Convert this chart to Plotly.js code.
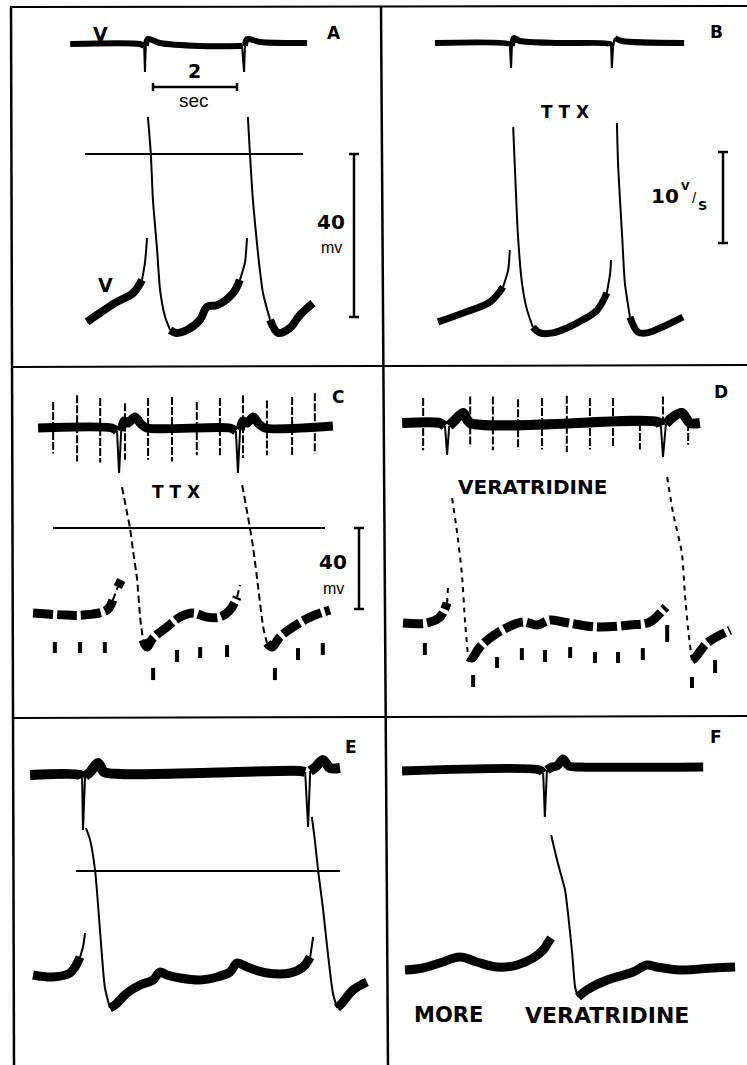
<!DOCTYPE html>
<html>
<head>
<meta charset="utf-8">
<script src="https://cdn.plot.ly/plotly-3.0.1.min.js"></script>
<style>
html,body{margin:0;padding:0;background:#fff;}
#chart{width:747px;height:1065px;}
</style>
</head>
<body>
<div id="chart"></div>
<script>
// ================= DATA (time in s, membrane potential in mV, dV/dt in V/s) =================
const panelKeys = ['A','B','C','D','E','F'];

// ---- Panel A (control) ----
const A_vm_t = [0, 0.31, 0.71, 1.10, 1.31, 1.38, 1.43, null, 1.45, 1.52, 1.57, 1.67, 1.74, 1.86, 1.98, 2.14, 2.38, 2.69, 2.86, 3.10, 3.48, 3.64, 3.76, 3.81, null, 3.83, 3.88, 3.95, 4.07, 4.19, 4.36, 4.55, 4.83, 5.07, 5.38];
const A_vm_v = [-41.2, -39.0, -36.3, -34.1, -30.9, -26.7, -20.6, null, 9.1, 0, -11.3, -23.6, -33.4, -40.0, -43.2, -43.9, -43.2, -40.7, -37.5, -37.1, -34.1, -30.9, -26.7, -20.6, null, 9.1, 0, -11.3, -24.3, -34.1, -40.7, -43.9, -42.7, -39.5, -36.6];
const A_dv_t = [-0.40, 1.26, 1.36, 1.38, 1.40, 1.45, 1.74, 2.69, 3.69, 3.74, 3.76, 3.81, 4.12, 5.24];
const A_dv_d = [-0.11, -0.11, -0.33, -3.19, -0.33, 0.44, 0, -0.33, -0.33, -3.19, -0.33, 0.44, 0.11, 0];

// ---- Panel B (TTX) ----
const B_vm_t = [0, 0.60, 1.24, 1.55, 1.67, 1.71, null, 1.79, 1.83, 1.90, 2.00, 2.12, 2.26, 2.43, 2.74, 3.07, 3.45, 3.79, 4.02, 4.10, 4.12, null, 4.26, 4.29, 4.38, 4.45, 4.57, 4.76, 4.98, 5.29, 5.60, 5.83];
const B_vm_v = [-41.2, -39.0, -36.3, -32.6, -28.5, -23.6, null, 6.6, -3.2, -19.4, -31.7, -38.3, -42.5, -43.9, -43.9, -42.7, -40.7, -38.3, -34.1, -29.2, -26.0, null, 7.6, -3.2, -19.4, -31.7, -40.0, -43.7, -43.9, -42.7, -41.2, -40.0];
const B_dv_t = [-0.07, 1.69, 1.71, 1.74, 1.76, 1.81, 1.95, 2.90, 4.10, 4.12, 4.14, 4.17, 4.21, 4.38, 5.86];
const B_dv_d = [0, -0.11, -0.33, -2.75, -0.33, 0.55, 0.22, 0, -0.11, -0.33, -2.75, -0.33, 0.55, 0.22, 0];

// ---- Panel C (TTX, with time marks) ----
const C_vm_t = [0, 0.81, 1.19, 1.76, 1.90, 2.02, 2.10, null, 2.12, 2.24, 2.31, 2.38, 2.48, 2.55, 2.62, 2.71, 2.86, 3.19, 3.50, 3.81, 4.14, 4.45, 4.69, 4.86, 4.93, null, 4.98, 5.12, 5.24, 5.36, 5.48, 5.57, 5.69, 5.88, 6.19, 6.60, 7.07];
const C_vm_v = [-42.0, -43.0, -43.0, -40.5, -35.6, -29.1, -25.7, null, 20.2, 7.4, 0, -10.9, -25.7, -44.0, -55.3, -58.8, -54.3, -48.9, -44.0, -42.0, -44.0, -44.0, -40.5, -34.1, -28.1, null, 21.2, 5.4, -9.4, -29.1, -48.9, -56.8, -58.8, -53.8, -48.9, -44.0, -40.5];
const C_dv_t = [0.12, 1.88, 2.00, 2.05, 2.10, 2.17, 2.26, 2.43, 2.57, 2.71, 4.69, 4.83, 4.88, 4.93, 5.00, 5.10, 5.24, 5.38, 5.52, 7.14];
const C_dv_d = [-0.11, -0.11, -0.44, -5.05, -0.44, 0.66, 0.44, 1.10, 0.33, -0.11, -0.11, -0.44, -5.05, -0.33, 0.66, 0.44, 1.10, 0.33, -0.11, 0.11];
const C_mark_t  = [0.48, 1.05, 1.60, 2.19, 2.74, 3.31, 3.90, 4.45, 5.00, 5.57, 6.17, 6.71];
const C_mark_up = [2.75, 3.5, 3.2, 2.6, 3.2, 3.3, 2.75, 3.2, 3.5, 2.9, 3.3, 3.7];
const C_mark_dn = [-2.9, -3.8, -3.9, -3.6, -3.6, -3.8, -3.1, -3.1, -3.4, -3.1, -3.1, -2.9];
const C_tick_t   = [0.52, 1.12, 1.71, 2.86, 3.43, 3.98, 4.62, 5.76, 6.31, 6.90];
const C_tick_top = [-56.3, -56.3, -56.3, -69.1, -60.2, -58.8, -57.8, -69.1, -59.3, -56.8];
const C_tick_bot = [-61.7, -61.7, -61.7, -75.1, -66.2, -64.2, -63.7, -75.1, -65.2, -62.7];

// ---- Panel D (veratridine, with time marks) ----
const D_vm_t = [0, 0.57, 0.88, 1.05, 1.07, null, 1.17, 1.29, 1.40, 1.48, 1.55, 1.64, 1.83, 2.24, 2.86, 3.19, 3.50, 3.81, 4.62, 5.40, 5.88, 6.19, 6.26, null, 6.29, 6.43, 6.64, 6.71, 6.79, 6.88, 6.95, 7.24, 7.79];
const D_vm_v = [-46.9, -46.9, -44.0, -37.0, -29.6, null, 14.8, -2.5, -22.2, -46.9, -63.7, -64.2, -58.8, -51.9, -46.4, -47.9, -45.4, -46.4, -48.9, -47.9, -46.4, -40.5, -39.0, null, 25.2, 7.4, -12.3, -32.1, -50.4, -65.2, -64.2, -56.8, -50.4];
const D_dv_t = [-0.02, 0.88, 1.00, 1.05, 1.10, 1.24, 1.43, 1.60, 6.07, 6.14, 6.19, 6.26, 6.40, 6.64, 6.83, 7.07];
const D_dv_d = [0, 0, -0.33, -3.52, -0.33, 0.33, 1.10, 0, 0.11, -0.33, -3.74, -0.11, 0.55, 1.10, 0, 0];
const D_mark_t  = [0.48, 1.60, 2.14, 2.74, 3.31, 3.90, 4.45, 5.00, 5.64, 6.19, 6.79];
const D_mark_up = [2.75, 2.9, 2.9, 2.6, 2.75, 3.0, 2.75, 2.75, 0, 2.9, 0];
const D_mark_dn = [-3.0, -2.6, -3.0, -2.9, -2.9, -3.2, -2.9, -2.6, -2.9, 0, -2.4];
const D_tick_t   = [0.52, 1.67, 2.24, 2.83, 3.38, 3.98, 4.57, 5.12, 5.71, 6.29, 6.88, 7.43];
const D_tick_top = [-56.8, -72.6, -63.7, -59.3, -60.2, -58.8, -61.2, -61.2, -59.3, -47.9, -73.6, -65.2];
const D_tick_bot = [-62.7, -78.5, -69.1, -65.2, -66.2, -64.2, -66.7, -66.7, -65.2, -56.3, -79.0, -71.6];

// ---- Panel E ----
const E_vm_t = [0, 0.48, 0.88, 1.00, 1.12, 1.19, 1.24, null, 1.26, 1.36, 1.48, 1.60, 1.71, 1.83, 1.95, 2.24, 2.55, 2.86, 3.02, 3.19, 3.50, 3.98, 4.38, 4.69, 4.86, 5.10, 5.57, 6.12, 6.43, 6.60, 6.67, null, 6.64, 6.71, 6.79, 6.90, 7.02, 7.14, 7.24, 7.36, 7.62, 7.95];
const E_vm_v = [-41.6, -42.4, -40.8, -38.4, -34.4, -30.4, -24.8, null, 17.2, 12.4, 0, -24.8, -46.4, -54.8, -53.6, -48.8, -45.6, -43.6, -40.4, -41.6, -42.8, -43.6, -42.4, -40.4, -36.8, -38.4, -40.8, -40.8, -38.4, -34.4, -26.4, null, 21.6, 12.4, 0, -14.4, -32.8, -48.8, -54.8, -52.8, -47.6, -44.4];
const E_dv_t = [-0.07, 1.12, 1.17, 1.19, 1.24, 1.36, 1.55, 1.69, 2.07, 3.98, 6.36, 6.48, 6.55, 6.60, 6.71, 6.90, 7.07, 7.31];
const E_dv_d = [0, 0, -0.33, -6.04, -0.11, 0.33, 1.32, 0.33, 0.11, 0.22, 0.44, 0.33, -5.71, 0.44, 0.77, 1.65, 0.77, 0.77];

// ---- Panel F (more veratridine) ----
const F_vm_t = [0, 0.43, 0.83, 1.31, 1.71, 2.19, 2.67, 3.05, 3.29, 3.40, 3.48, null, 3.48, 3.62, 3.81, 3.88, 3.98, 4.05, 4.12, 4.33, 4.81, 5.43, 5.76, 6.00, 6.55, 7.33, 7.86];
const F_vm_v = [-39.6, -38.8, -36.8, -34.4, -36.4, -38.4, -37.6, -34.8, -31.6, -28.8, -26.8, null, 14.4, 4.4, -7.6, -16.8, -32.8, -46.4, -50.4, -47.6, -43.6, -40.4, -37.6, -38.4, -39.6, -38.8, -38.4];
const F_dv_t = [-0.07, 3.21, 3.29, 3.33, 3.38, 3.50, 3.62, 3.76, 3.90, 4.17, 7.10];
const F_dv_d = [0, 0.11, -0.22, -5.05, 0.11, 0.44, 0.55, 1.32, 0.55, 0.44, 0.44];

// ---- calibration bars / reference ----
const refPotential_mV = 0;
const scaleA_time_s = 2;
const scaleA_mV = 40;
const scaleB_Vs = 10;
const scaleC_mV = 40;

// ================= LAYOUT GEOMETRY (pixels) =================
const W = 747, H = 1065;
const PX_PER_S = 42, PX_PER_VS = 9.1;
const geom = {
  A:{l:12,  r:382, t:7,   b:367,  t0:87,  v0:154, mv:4.075, d0:43},
  B:{l:382, r:747, t:7,   b:367,  t0:438, v0:154, mv:4.075, d0:43},
  C:{l:12,  r:382, t:367, b:718,  t0:33,  v0:528, mv:2.025, d0:427},
  D:{l:382, r:747, t:367, b:718,  t0:403, v0:528, mv:2.025, d0:423},
  E:{l:12,  r:382, t:718, b:1065, t0:33,  v0:871, mv:2.5,   d0:775},
  F:{l:382, r:747, t:718, b:1065, t0:405, v0:871, mv:2.5,   d0:771}
};
const style = {
  A:{vmW:8, dvW:6,  thickDash:'solid',     thinDash:'solid'},
  B:{vmW:7, dvW:6,  thickDash:'solid',     thinDash:'solid'},
  C:{vmW:9, dvW:9,  thickDash:'20px,4px',  thinDash:'7px,4px'},
  D:{vmW:9, dvW:10, thickDash:'20px,4px',  thinDash:'5px,5px'},
  E:{vmW:9, dvW:10, thickDash:'solid',     thinDash:'solid'},
  F:{vmW:9, dvW:9,  thickDash:'solid',     thinDash:'solid'}
};
const series = {
  A:{vt:A_vm_t, vv:A_vm_v, dt:A_dv_t, dd:A_dv_d},
  B:{vt:B_vm_t, vv:B_vm_v, dt:B_dv_t, dd:B_dv_d},
  C:{vt:C_vm_t, vv:C_vm_v, dt:C_dv_t, dd:C_dv_d, mt:C_mark_t, mu:C_mark_up, md:C_mark_dn, kt:C_tick_t, ka:C_tick_top, kb:C_tick_bot},
  D:{vt:D_vm_t, vv:D_vm_v, dt:D_dv_t, dd:D_dv_d, mt:D_mark_t, mu:D_mark_up, md:D_mark_dn, kt:D_tick_t, ka:D_tick_top, kb:D_tick_bot},
  E:{vt:E_vm_t, vv:E_vm_v, dt:E_dv_t, dd:E_dv_d},
  F:{vt:F_vm_t, vv:F_vm_v, dt:F_dv_t, dd:F_dv_d}
};

const INK = '#000';
function axKey(letter, n){ return letter + 'axis' + (n === 1 ? '' : n); }
function axRef(letter, n){ return letter + (n === 1 ? '' : n); }
const pxT = (g, px) => (px - g.t0) / PX_PER_S;
const pxV = (g, py) => (g.v0 - py) / g.mv;
const pxD = (g, py) => (g.d0 - py) / PX_PER_VS;

// split a trace into slow (thick beam) and fast (thin beam) parts using its on-screen slope
function splitBySlope(t, v, sx, sy, ratio){
  const thick = {x:[], y:[]}, thin = {x:[], y:[]};
  for (let k = 0; k < t.length - 1; k++){
    const a = t[k], b = t[k+1], va = v[k], vb = v[k+1];
    if (a === null || b === null || va === null || vb === null) continue;
    const steep = Math.abs(vb - va) * sy > ratio * Math.abs(b - a) * sx;
    const tg = steep ? thin : thick;
    const n = tg.x.length - 1;
    if (n >= 0 && tg.x[n] === a && tg.y[n] === va){ tg.x.push(b); tg.y.push(vb); }
    else { if (n >= 0){ tg.x.push(null); tg.y.push(null); } tg.x.push(a, b); tg.y.push(va, vb); }
  }
  return {thick, thin};
}
function segs(ts, a, b){
  const x = [], y = [];
  ts.forEach((t, k) => { x.push(t, t, null); y.push(a[k], b[k], null); });
  return {x, y};
}

const traces = [];
const layout = {
  width: W, height: H,
  margin: {l:0, r:0, t:0, b:0, pad:0},
  paper_bgcolor: '#fff', plot_bgcolor: 'rgba(0,0,0,0)',
  showlegend: false, hovermode: false,
  annotations: [], shapes: []
};
const hidden = {visible:false, showgrid:false, zeroline:false, fixedrange:true};

panelKeys.forEach((p, i) => {
  const n = i + 1, g = geom[p], s = series[p], st = style[p];
  const xr = axRef('x', n), yv = axRef('y', n), yd = axRef('y', n + 6);
  layout[axKey('x', n)] = Object.assign({}, hidden, {domain:[g.l / W, g.r / W], range:[pxT(g, g.l), pxT(g, g.r)], anchor: yv});
  layout[axKey('y', n)] = Object.assign({}, hidden, {domain:[1 - g.b / H, 1 - g.t / H], range:[pxV(g, g.b), pxV(g, g.t)], anchor: xr});
  layout[axKey('y', n + 6)] = Object.assign({}, hidden, {overlaying: yv, range:[pxD(g, g.b), pxD(g, g.t)], anchor: xr});

  // membrane potential trace
  const vm = splitBySlope(s.vt, s.vv, PX_PER_S, g.mv, 2.5);
  traces.push({type:'scatter', mode:'lines', xaxis:xr, yaxis:yv, x:vm.thin.x, y:vm.thin.y,
    line:{color:INK, width:2, dash:st.thinDash, shape:'spline', smoothing:0.6}});
  traces.push({type:'scatter', mode:'lines', xaxis:xr, yaxis:yv, x:vm.thick.x, y:vm.thick.y,
    line:{color:INK, width:st.vmW, dash:st.thickDash, shape:'spline', smoothing:1}});
  // dV/dt trace
  const dv = splitBySlope(s.dt, s.dd, PX_PER_S, PX_PER_VS, 4);
  traces.push({type:'scatter', mode:'lines', xaxis:xr, yaxis:yd, x:dv.thin.x, y:dv.thin.y,
    line:{color:INK, width:2}});
  traces.push({type:'scatter', mode:'lines', xaxis:xr, yaxis:yd, x:dv.thick.x, y:dv.thick.y,
    line:{color:INK, width:st.dvW, shape:'spline', smoothing:0.8}});
  // time marks
  if (s.mt){
    const m = segs(s.mt, s.mu, s.md);
    traces.push({type:'scatter', mode:'lines', xaxis:xr, yaxis:yd, x:m.x, y:m.y,
      line:{color:INK, width:2, dash:'8px,2px'}});
    const k = segs(s.kt, s.ka, s.kb);
    traces.push({type:'scatter', mode:'lines', xaxis:xr, yaxis:yv, x:k.x, y:k.y,
      line:{color:INK, width:4}});
  }
});

// reference (0 mV) lines in A, C, E
[['A',1,85,303],['C',3,53,325],['E',5,76,340]].forEach(([p, n, x0, x1]) => {
  const g = geom[p];
  traces.push({type:'scatter', mode:'lines', xaxis:axRef('x', n), yaxis:axRef('y', n),
    x:[pxT(g, x0), pxT(g, x1)], y:[refPotential_mV, refPotential_mV], line:{color:INK, width:2.2}});
});

// calibration bars
function hBar(p, n, yaxisRef, x0px, yVal, len, capPx, capUnit){
  const g = geom[p], t0 = pxT(g, x0px), c = capPx / capUnit;
  traces.push({type:'scatter', mode:'lines', xaxis:axRef('x', n), yaxis:yaxisRef,
    x:[t0, t0 + len, null, t0, t0, null, t0 + len, t0 + len],
    y:[yVal, yVal, null, yVal - c, yVal + c, null, yVal - c, yVal + c], line:{color:INK, width:2.5}});
}
function vBar(p, n, yaxisRef, xpx, yTop, len, capPx){
  const g = geom[p], t = pxT(g, xpx), c = capPx / PX_PER_S;
  traces.push({type:'scatter', mode:'lines', xaxis:axRef('x', n), yaxis:yaxisRef,
    x:[t, t, null, t - c, t + c, null, t - c, t + c],
    y:[yTop, yTop - len, null, yTop, yTop, null, yTop - len, yTop - len], line:{color:INK, width:2.5}});
}
hBar('A', 1, 'y', 153, pxV(geom.A, 87), scaleA_time_s, 4, geom.A.mv);
vBar('A', 1, 'y', 354, refPotential_mV, scaleA_mV, 5);
vBar('B', 2, 'y8', 723, pxD(geom.B, 152), scaleB_Vs, 5);
vBar('C', 3, 'y3', 359, refPotential_mV, scaleC_mV, 5);

// panel borders
function pline(x0, y0, x1, y1, w){
  return {type:'line', xref:'paper', yref:'paper', x0:x0 / W, y0:1 - y0 / H, x1:x1 / W, y1:1 - y1 / H, line:{color:INK, width:w}};
}
layout.shapes.push(
  pline(10, 7, 747, 6, 2),
  pline(11, 6, 14, 1065, 2.5),
  pline(381, 6, 388, 1065, 2.5),
  pline(12, 367, 747, 365, 2),
  pline(14, 718, 747, 716, 2)
);

// labels
function ann(text, px, py, size, opts){
  return Object.assign({xref:'paper', yref:'paper', x:px / W, y:1 - py / H, xanchor:'center', yanchor:'middle',
    showarrow:false, borderpad:0, text:text, font:{family:'DejaVu Sans', size:size, color:INK, weight:'bold'}}, opts || {});
}
const reg = (size) => ({family:'Liberation Sans', size:size, color:INK, weight:'normal'});
layout.annotations.push(
  ann('A', 334, 33, 17), ann('B', 716, 32, 17), ann('C', 338, 397, 17),
  ann('D', 721, 392, 17), ann('E', 351, 747, 17), ann('F', 716, 737, 17),
  ann('V', 101, 34, 19), ann('V', 105, 285, 19),
  ann('2', 194, 71, 19),
  ann('sec', 194, 100, 19, {font:reg(19)}),
  ann('40', 331, 222, 20), ann('mv', 331, 248, 16, {font:reg(16)}),
  ann('T T X', 565, 112, 17),
  ann('10', 665, 196, 20),
  ann('V', 685, 186, 11),
  ann('/', 694, 198, 15, {font:reg(15)}),
  ann('S', 702, 205, 13),
  ann('T T X', 176, 492, 17),
  ann('40', 333, 562, 20), ann('mv', 333, 588, 16, {font:reg(16)}),
  ann('VERATRIDINE', 532, 487, 20),
  ann('MORE', 448, 1015, 21),
  ann('VERATRIDINE', 607, 1015, 22)
);

Plotly.newPlot('chart', traces, layout, {staticPlot:true, displayModeBar:false});
</script>
</body>
</html>
